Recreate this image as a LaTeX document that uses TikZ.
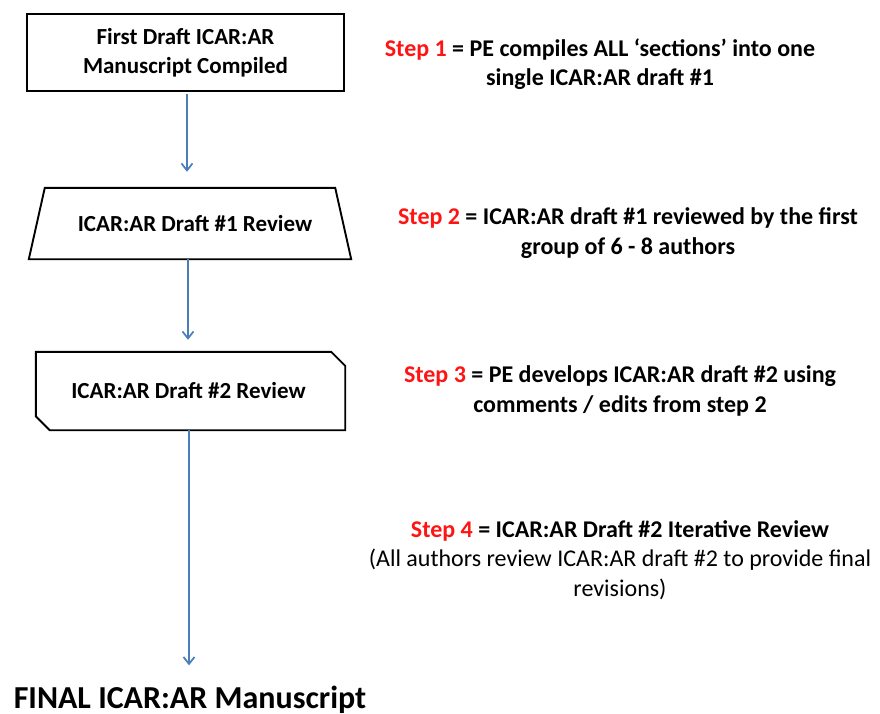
\documentclass[tikz,border=0pt]{standalone}
\usepackage{fontspec}
\setmainfont{Carlito}
\usetikzlibrary{arrows.meta,calc}
\definecolor{arrowblue}{RGB}{74,126,187}
\definecolor{stepred}{RGB}{255,20,20}
\tikzset{
  shapebox/.style={draw=none,inner sep=0pt,align=center,font=\bfseries\fontsize{23}{29}\selectfont},
  outline/.style={draw=black,line width=1.9pt,line join=miter},
  flowarrow/.style={draw=arrowblue,line width=1.7pt,-{Straight Barb[length=7pt,width=11pt,line width=1.7pt]}},
  steptext/.style={align=center,inner sep=0pt,font=\bfseries\fontsize{24}{29.5}\selectfont},
}
\newcommand{\stepword}[1]{\textcolor{stepred}{#1}}
\begin{document}
\begin{tikzpicture}[x=1pt,y=-1pt]
\useasboundingbox (0,0) rectangle (880,713);
% box 1
\node[shapebox,draw=black,line width=1.9pt,minimum width=317pt,minimum height=77pt] (b1) at (185.5,52.5)
  {First Draft ICAR:AR\\Manuscript Compiled};
% box 2 (trapezium)
\node[shapebox,minimum width=322pt,minimum height=71pt] (b2) at (190,223.5) {\hspace*{10pt}ICAR:AR Draft \#1 Review};
\draw[outline] ([xshift=16pt]b2.north west) -- ([xshift=-16pt]b2.north east) -- (b2.south east) -- (b2.south west) -- cycle;
% box 3 (snipped corners)
\node[shapebox,minimum width=309pt,minimum height=78pt] (b3) at (190.5,391) {\hspace*{-4pt}ICAR:AR Draft \#2 Review};
\draw[outline] (b3.north west) -- ([xshift=-14pt]b3.north east) -- ([yshift=-14pt]b3.north east) -- (b3.south east)
  -- ([xshift=14pt]b3.south west) -- ([yshift=14pt]b3.south west) -- cycle;
% final
\node[inner sep=0pt,font=\bfseries\fontsize{32}{36}\selectfont,anchor=base] (fin) at (190,708) {FINAL ICAR:AR Manuscript};
% arrows
\draw[flowarrow,shorten <=2pt,shorten >=16pt] ([xshift=1.5pt]b1.south) -- ([xshift=1.5pt]b1.south |- b2.north);
\draw[flowarrow,shorten >=12pt] ([xshift=-2pt]b2.south) -- ([xshift=-2pt]b2.south |- b3.north);
\draw[flowarrow,shorten >=20pt] ([xshift=-1.5pt]b3.south) -- ([xshift=-1.5pt]b3.south |- fin.north);
% step texts
\node[steptext] (s1) at (600,64) {\stepword{Step 1} = PE compiles ALL ‘sections’ into one\\single ICAR:AR draft \#1};
\node[steptext] (s2) at (628,233) {\stepword{Step 2} = ICAR:AR draft \#1 reviewed by the first\\group of 6 - 8 authors};
\node[steptext] (s3) at (620,391) {\stepword{Step 3} = PE develops ICAR:AR draft \#2 using\\comments / edits from step 2};
\node[steptext] (s4) at (620,560) {\stepword{Step 4} = ICAR:AR Draft \#2 Iterative Review\\
  {\mdseries (All authors review ICAR:AR draft \#2 to provide final}\\{\mdseries revisions)}};
\end{tikzpicture}
\end{document}
